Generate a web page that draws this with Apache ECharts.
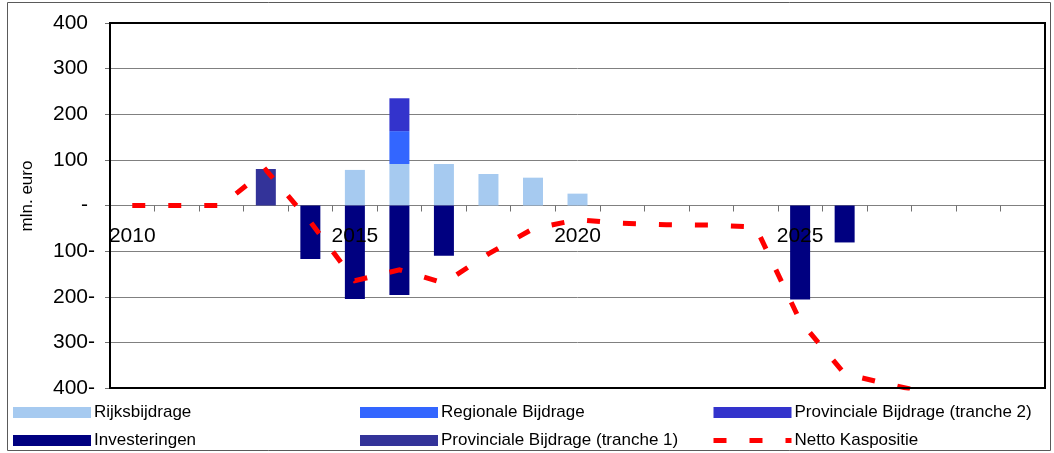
<!DOCTYPE html>
<html>
<head>
<meta charset="utf-8">
<script src="https://cdn.jsdelivr.net/npm/echarts@6/dist/echarts.min.js"></script>
<style>
  html, body { margin: 0; padding: 0; background: #ffffff; }
  #chart { width: 1054px; height: 453px; }
</style>
</head>
<body>
<div id="chart"></div>
<script>
// Years on the category axis and the years that carry a label
const years = ['2010','2011','2012','2013','2014','2015','2016','2017','2018','2019','2020',
               '2021','2022','2023','2024','2025','2026','2027','2028','2029','2030'];
const yearLabels = ['2010', '2015', '2020', '2025'];

// Cash flows per year, mln. euro
const rijksbijdrage     = [null, null, null, null, null, 78, 91, 91, 69, 61, 26, null, null, null, null, null, null, null, null, null, null];
const regionaleBijdrage = [null, null, null, null, null, null, 72, null, null, null, null, null, null, null, null, null, null, null, null, null, null];
const provTranche2      = [null, null, null, null, null, null, 72, null, null, null, null, null, null, null, null, null, null, null, null, null, null];
const investeringen     = [null, null, null, null, -117, -205, -196, -110, null, null, null, null, null, null, null, -206, -81, null, null, null, null];
const provTranche1      = [null, null, null, 80, null, null, null, null, null, null, null, null, null, null, null, null, null, null, null, null, null];
const nettoKaspositie   = [0, 0, 0, 78, -36, -165, -141, -170, -106, -51, -31, -39, -42, -43, -47, -253, -369, -392, -413, null, null];

// Value axis range
const yMin = -400;
const yMax = 400;
const yStep = 100;

const FONT = "'Liberation Sans', Arial, sans-serif";
const GRID = { left: 110, top: 23, right: 9, bottom: 65 };
const W = 1054, H = 453;
const plotHeight = H - GRID.top - GRID.bottom;
// lift the category axis (line, ticks and labels) up to the zero level
const zeroOffset = -plotHeight * (0 - yMin) / (yMax - yMin);

const chart = echarts.init(document.getElementById('chart'), null, { renderer: 'canvas' });

function barSeries(name, data, color) {
  return {
    name: name,
    type: 'bar',
    stack: 'kas',
    data: data,
    barWidth: 20,
    itemStyle: { color: color },
    emphasis: { disabled: true },
    animation: false
  };
}

const legendCommon = {
  orient: 'vertical',
  top: 404,
  itemWidth: 78,
  itemHeight: 11,
  itemGap: 11,
  padding: 0,
  selectedMode: false,
  textStyle: { fontFamily: FONT, fontSize: 17, color: '#000', lineHeight: 17, padding: [0, 0, 0, -2] }
};

chart.setOption({
  animation: false,
  backgroundColor: '#ffffff',
  textStyle: { fontFamily: FONT, color: '#000' },
  grid: Object.assign({ outerBoundsMode: 'none', containLabel: false }, GRID),
  legend: [
    Object.assign({}, legendCommon, { left: 13, data: [
      { name: 'Rijksbijdrage', icon: 'rect' },
      { name: 'Investeringen', icon: 'rect' }
    ]}),
    Object.assign({}, legendCommon, { left: 360, data: [
      { name: 'Regionale Bijdrage', icon: 'rect' },
      { name: 'Provinciale Bijdrage (tranche 1)', icon: 'rect' }
    ]}),
    Object.assign({}, legendCommon, { left: 711, data: [
      { name: 'Provinciale Bijdrage (tranche 2)', icon: 'rect' },
      { name: 'Netto Kaspositie', lineStyle: { width: 5, color: '#ff0000', type: [13, 23], cap: 'butt' }, itemStyle: { opacity: 0 } }
    ]})
  ],
  xAxis: [
    {
      // axis line and ticks at zero, beneath the bars
      type: 'category',
      data: years,
      boundaryGap: true,
      position: 'bottom',
      offset: zeroOffset,
      axisLine: { onZero: false, lineStyle: { color: '#808080', width: 1 } },
      axisTick: { show: true, interval: 0, length: 6, inside: false, lineStyle: { color: '#707070', width: 1 } },
      axisLabel: { show: false },
      splitLine: { show: false }
    },
    {
      // year labels, drawn above the bars
      type: 'category',
      data: years,
      boundaryGap: true,
      position: 'bottom',
      offset: zeroOffset,
      z: 10,
      axisLine: { show: false, onZero: false },
      axisTick: { show: false },
      axisLabel: {
        interval: (idx, val) => yearLabels.indexOf(val) >= 0,
        margin: 20,
        fontFamily: FONT,
        fontSize: 21,
        color: '#000'
      },
      splitLine: { show: false }
    }
  ],
  yAxis: {
    type: 'value',
    min: yMin,
    max: yMax,
    interval: yStep,
    axisLine: { show: true, lineStyle: { color: '#000', width: 2 } },
    axisTick: { show: true, length: 5, lineStyle: { color: '#707070', width: 1 } },
    splitLine: { show: true, lineStyle: { color: '#808080', width: 1 } },
    axisLabel: {
      margin: 15,
      fontFamily: FONT,
      fontSize: 21,
      color: '#000',
      formatter: v => v > 0 ? '{pos|' + v + '}' : (v < 0 ? '{neg|' + (-v) + '-}' : '{pos|-}'),
      rich: {
        pos: { fontFamily: FONT, fontSize: 21, color: '#000', padding: [0, 7, 0, 0] },
        neg: { fontFamily: FONT, fontSize: 21, color: '#000' }
      }
    }
  },
  series: [
    barSeries('Rijksbijdrage', rijksbijdrage, '#a6caf0'),
    barSeries('Regionale Bijdrage', regionaleBijdrage, '#3366ff'),
    barSeries('Provinciale Bijdrage (tranche 2)', provTranche2, '#3333cc'),
    barSeries('Investeringen', investeringen, '#000080'),
    barSeries('Provinciale Bijdrage (tranche 1)', provTranche1, '#333399'),
    {
      name: 'Netto Kaspositie',
      type: 'line',
      data: nettoKaspositie,
      symbol: 'none',
      smooth: false,
      clip: true,
      z: 5,
      itemStyle: { color: '#ff0000' },
      lineStyle: { color: '#ff0000', width: 5, type: [13, 23], cap: 'butt', join: 'miter' },
      emphasis: { disabled: true },
      animation: false
    }
  ],
  graphic: [
    {
      type: 'rect',
      z: 50,
      silent: true,
      shape: { x: GRID.left, y: GRID.top, width: W - GRID.left - GRID.right, height: plotHeight },
      style: { fill: null, stroke: '#000', lineWidth: 2 }
    },
    {
      type: 'rect',
      z: 50,
      silent: true,
      shape: { x: 7.5, y: 2.5, width: 1043, height: 448 },
      style: { fill: null, stroke: '#5a5a5a', lineWidth: 1 }
    },
    {
      type: 'text',
      z: 50,
      silent: true,
      x: 27,
      y: 196,
      rotation: Math.PI / 2,
      style: { text: 'mln. euro', font: "17px 'Liberation Sans', Arial, sans-serif", fill: '#000', align: 'center', verticalAlign: 'middle' }
    }
  ]
});
</script>
</body>
</html>
